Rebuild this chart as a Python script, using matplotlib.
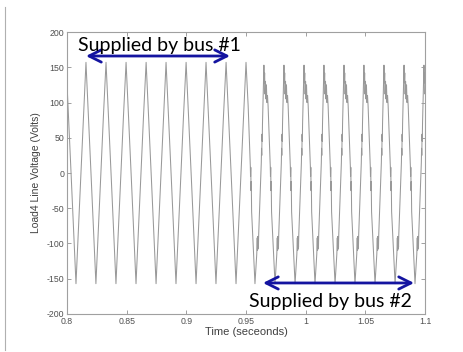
import numpy as np
import matplotlib.pyplot as plt
from matplotlib.lines import Line2D

plt.rcParams['axes.unicode_minus'] = False

# peak times of the clean waveform (bus #1) and trough times after the switch (bus #2)
bus1_peaks = [0.7992, 0.8159, 0.8327, 0.8495, 0.8663, 0.8830, 0.8998, 0.9165, 0.9333, 0.9500]
bus2_troughs = [0.9408, 0.9575, 0.9743, 0.9911, 1.0078, 1.0246, 1.0413, 1.0581, 1.0749,
                1.0916, 1.1084]
switch_time = 0.9500

# one cycle of each waveform: offset (ms) from the reference point, voltage (V)
bus1_offset_ms = [0.0, 2.1, 4.2, 6.3, 8.33, 10.4, 12.5, 14.6]
bus1_volts = [157, 80, 0, -80, -157, -80, 0, 80]

bus2_offset_ms = [0.0, 1.5, 1.9, 2.1, 2.3, 2.5, 2.7, 2.9, 3.1, 5.3, 5.5, 5.7, 5.9, 6.1, 6.3,
                  7.5, 7.8, 8.1, 8.4, 8.8, 9.2, 9.6, 10.0, 10.5, 11.0,
                  12.8, 13.0, 13.2, 13.4, 13.6, 13.9]
bus2_volts = [-157, -115, -92, -110, -90, -108, -93, -105, -88, 15, 35, 25, 55, 45, 70,
              153, 128, 142, 112, 130, 105, 125, 100, 110, 95,
              10, -5, 8, -25, -12, -55]

t, v = [], []
for p in bus1_peaks:
    for dt, y in zip(bus1_offset_ms, bus1_volts):
        if p + dt / 1000 <= switch_time:
            t.append(p + dt / 1000)
            v.append(y)
for p in bus2_troughs:
    for dt, y in zip(bus2_offset_ms, bus2_volts):
        if p + dt / 1000 > switch_time + 0.001:
            t.append(p + dt / 1000)
            v.append(y)

fig = plt.figure(figsize=(4.63, 3.52), dpi=100)
ax = fig.add_axes([0.1447, 0.108, 0.7733, 0.801])

ax.plot(t, v, color='#999999', linewidth=0.75)

ax.set_xlim(0.8, 1.1)
ax.set_ylim(-200, 200)
ax.set_xticks([0.8, 0.85, 0.9, 0.95, 1.0, 1.05, 1.1])
ax.set_xticklabels(['0.8', '0.85', '0.9', '0.95', '1', '1.05', '1.1'])
ax.set_yticks(np.arange(-200, 201, 50))
ax.tick_params(direction='in', length=3, width=0.6, color='#909090',
               labelsize=6.3, labelcolor='#505050', top=True, right=True, pad=2)
for lbl in ax.get_xticklabels() + ax.get_yticklabels():
    lbl.set_family('Liberation Sans')
for s in ax.spines.values():
    s.set_color('#a0a0a0')
    s.set_linewidth(0.8)

ax.set_xlabel('Time (seceonds)', fontsize=8, color='#404040', labelpad=1,
              family='Liberation Sans')
ax.set_ylabel('Load4 Line Voltage (Volts)', fontsize=7.5, color='#404040', labelpad=4,
              family='Liberation Sans')

blue = '#1414a0'
ax.annotate('', xy=(0.8159, 166), xytext=(0.9366, 166),
            arrowprops=dict(arrowstyle='<->', color=blue, lw=2.0, mutation_scale=22,
                            shrinkA=0, shrinkB=0))
ax.annotate('', xy=(0.9642, -156), xytext=(1.0908, -156),
            arrowprops=dict(arrowstyle='<->', color=blue, lw=2.0, mutation_scale=22,
                            shrinkA=0, shrinkB=0))
ax.text(0.8092, 173, 'Supplied by bus #1', fontsize=14, family='Lato',
        va='baseline', ha='left', color='black')
ax.text(0.9525, -190, 'Supplied by bus #2', fontsize=14, family='Lato',
        va='baseline', ha='left', color='black')

# thin page border on the left
fig.add_artist(Line2D([5 / 463, 5 / 463], [1 - 7 / 352, 1 - 350 / 352],
                      color='#b0b0b0', linewidth=0.8, transform=fig.transFigure))

fig.savefig('out.png', dpi=100)
